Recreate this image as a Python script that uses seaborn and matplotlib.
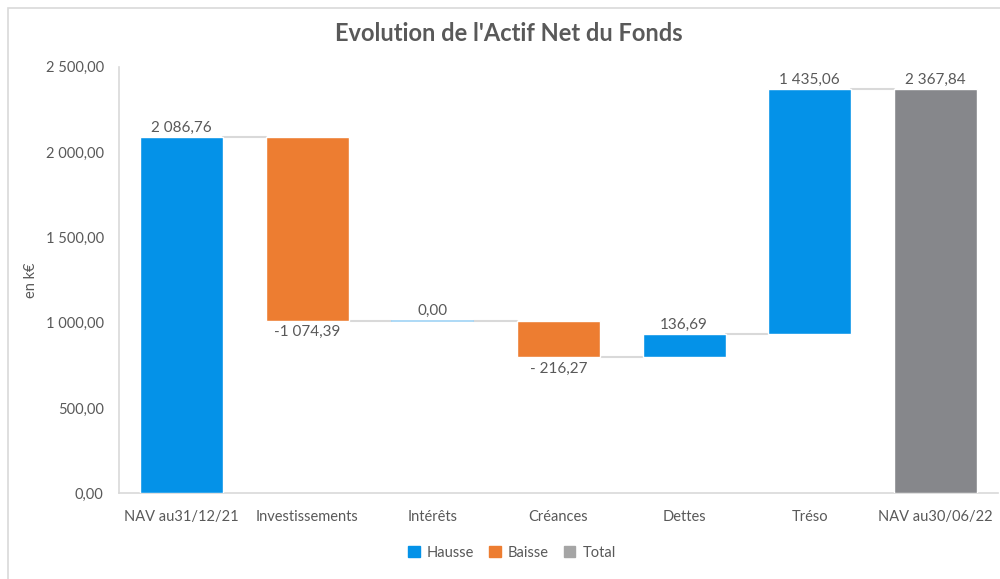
import seaborn as sns
import matplotlib.pyplot as plt
import matplotlib.patches as mpatches
import pandas as pd

categories = ["NAV au31/12/21", "Investissements", "Intérêts", "Créances",
              "Dettes", "Tréso", "NAV au30/06/22"]
changes = [2086.76, -1074.39, 0.00, -216.27, 136.69, 1435.06, 2367.84]
kinds = ["Hausse", "Baisse", "Hausse", "Baisse", "Hausse", "Hausse", "Total"]
value_labels = ["2 086,76", "-1 074,39", "0,00", "- 216,27", "136,69",
                "1 435,06", "2 367,84"]
y_ticks = [0, 500, 1000, 1500, 2000, 2500]
y_tick_labels = ["0,00", "500,00", "1 000,00", "1 500,00", "2 000,00", "2 500,00"]

kind_colors = {"Hausse": "#0492E8", "Baisse": "#ED7D31", "Total": "#86878B"}
legend_colors = {"Hausse": "#0492E8", "Baisse": "#ED7D31", "Total": "#A5A5A5"}
text_color = "#595959"
line_color = "#D9D9D9"

# running totals -> bottom of each floating bar
bases, tops = [], []
level = 0.0
for c, k in zip(changes, kinds):
    if k == "Total" or not bases:
        bases.append(0.0)
        tops.append(c)
        level = c
    else:
        new = level + c
        bases.append(min(level, new))
        tops.append(max(level, new))
        level = new

df = pd.DataFrame({
    "cat": categories,
    "base": bases,
    "height": [t - b for t, b in zip(tops, bases)],
    "kind": kinds,
})

sns.set_theme(style="white")
plt.rcParams["font.family"] = ["Lato", "DejaVu Sans"]

fig = plt.figure(figsize=(10, 5.79), dpi=100)
ax = fig.add_axes([0.119, 0.148, 0.879, 0.737])

sns.barplot(data=df, x="cat", y="height", hue="cat",
            palette=[kind_colors[k] for k in kinds],
            width=0.66, legend=False, ax=ax, saturation=1)

# lift each bar onto its base
for patch, b, h, k in zip(ax.patches, df["base"], df["height"], df["kind"]):
    patch.set_y(b)
    patch.set_height(h)
    patch.set_zorder(3)
    if h == 0:
        patch.set_edgecolor("#9FD3F5")
        patch.set_linewidth(1.2)

# connectors between bars
for i in range(len(categories) - 1):
    lvl = tops[i] if changes[i] >= 0 or kinds[i] == "Total" else bases[i]
    x0 = ax.patches[i].get_x() + ax.patches[i].get_width()
    x1 = ax.patches[i + 1].get_x()
    ax.plot([x0, x1], [lvl, lvl], color=line_color, lw=1.5, zorder=2)

# value labels
for i, lab in enumerate(value_labels):
    if changes[i] < 0:
        ax.text(i, bases[i] - 28, lab, ha="center", va="top",
                fontsize=11, color=text_color)
    else:
        ax.text(i, tops[i] + 14, lab, ha="center", va="bottom",
                fontsize=11, color=text_color)

ax.set_ylim(0, 2500)
ax.set_xlim(-0.5, len(categories) - 0.5)
ax.set_yticks(y_ticks)
ax.set_yticklabels(y_tick_labels)
ax.tick_params(axis="both", labelsize=10.5, colors=text_color, length=0)
ax.tick_params(axis="x", pad=12)
ax.tick_params(axis="y", pad=11)
ax.set_xlabel("")
ax.set_ylabel("en k€", fontsize=10.5, color=text_color)
ax.yaxis.set_label_coords(-0.092, 0.5)

for side in ["top", "right"]:
    ax.spines[side].set_visible(False)
ax.spines["left"].set_color(line_color)
ax.spines["bottom"].set_color(line_color)
ax.spines["left"].set_linewidth(1.2)
ax.spines["bottom"].set_linewidth(1.2)

fig.suptitle("Evolution de l'Actif Net du Fonds", x=0.509, y=0.962,
             fontsize=17, fontweight="bold", color=text_color)

handles = [mpatches.Patch(color=legend_colors[k], label=k)
           for k in ["Hausse", "Baisse", "Total"]]
fig.legend(handles=handles, loc="center", bbox_to_anchor=(0.512, 0.045),
           ncol=3, frameon=False, fontsize=10.5, handlelength=0.8,
           handleheight=0.8, handletextpad=0.5, columnspacing=1.0,
           labelcolor=text_color)

# outer chart frame (only top/left visible in the crop)
fig.patches.append(mpatches.Rectangle((0.008, -0.1), 1.2, 1.086,
                                      transform=fig.transFigure, fill=False,
                                      edgecolor=line_color, lw=1.2))

fig.savefig("out.png", dpi=100)
